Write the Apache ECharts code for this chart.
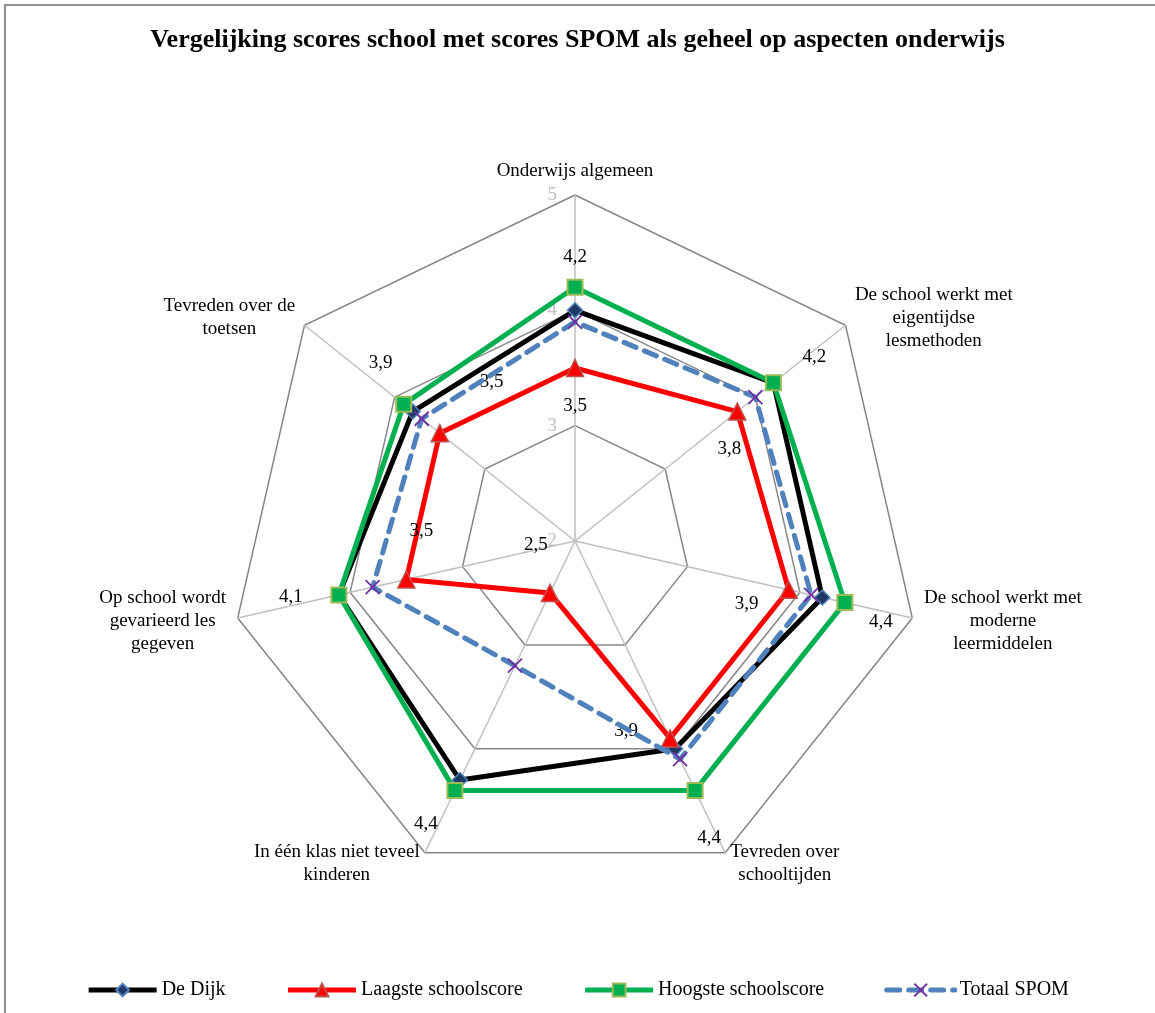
<!DOCTYPE html>
<html>
<head>
<meta charset="utf-8">
<script src="https://cdn.jsdelivr.net/npm/echarts@6/dist/echarts.min.js"></script>
<style>
  html, body { margin: 0; padding: 0; background: #fff; overflow: hidden; }
  #wrap { position: relative; width: 1155px; height: 1013px; }
  #chart { width: 1155px; height: 1013px; }
  #frame { position: absolute; left: 4px; top: 4px; right: -4px; bottom: -4px;
           border: 2px solid #8f8f8f; pointer-events: none; }
</style>
</head>
<body>
<div id="wrap">
  <div id="chart"></div>
  <div id="frame"></div>
</div>
<script>
// aspecten (clockwise from the top, as in the original)
const categories = [
  'Onderwijs algemeen',
  'De school werkt met\neigentijdse\nlesmethoden',
  'De school werkt met\nmoderne\nleermiddelen',
  'Tevreden over\nschooltijden',
  'In één klas niet teveel\nkinderen',
  'Op school wordt\ngevarieerd les\ngegeven',
  'Tevreden over de\ntoetsen'
];
const seriesNames = ['De Dijk', 'Laagste schoolscore', 'Hoogste schoolscore', 'Totaal SPOM'];
const deDijk = [4.0, 4.2, 4.2, 4.0, 4.3, 4.1, 3.8];
const laagste = [3.5, 3.8, 3.9, 3.9, 2.5, 3.5, 3.5];
const hoogste = [4.2, 4.2, 4.4, 4.4, 4.4, 4.1, 3.9];
const totaalSpom = [3.9, 4.0, 4.1, 4.1, 3.2, 3.8, 3.7];
const axisMin = 2, axisMax = 5;

const FONT = 'Liberation Serif';
const CX = 575, CY = 541, R = 346;
const STEP = 2 * Math.PI / 7;

// echarts draws radar axes counter-clockwise, so reverse all but the first
const order = [0, 6, 5, 4, 3, 2, 1];
const pick = arr => order.map(i => arr[i]);

// label offsets per aspect (clockwise index), like the Excel labels
const hoogOffsets = [[0, -30], [41, -26], [36, 19], [14, 48], [-29, 34], [-48, 2], [-23, -41]];
const laagOffsets = [[0, 38], [-8, 37], [-42, 14], [-44, -7], [-14, -48], [15, -48], [52, -51]];

function placeLabels(offsets) {
  return function (p) {
    const x = p.rect.x + p.rect.width / 2 - CX;
    const y = p.rect.y + p.rect.height / 2 - CY;
    let k = Math.round(Math.atan2(x, -y) / STEP);
    k = ((k % 7) + 7) % 7;
    return { dx: offsets[k][0], dy: offsets[k][1] };
  };
}

const fmt = v => Number(v).toFixed(1).replace('.', ',');

const styles = [
  { line: { color: '#000000', width: 5 }, symbol: 'diamond', size: 15,
    item: { color: '#1f3864', borderColor: '#4f81bd', borderWidth: 1.5 } },
  { line: { color: '#ff0000', width: 5 }, symbol: 'triangle', size: 17,
    item: { color: '#ff0000', borderColor: '#c0504d', borderWidth: 1.5 } },
  { line: { color: '#00b050', width: 5 }, symbol: 'rect', size: 15,
    item: { color: '#00b050', borderColor: '#9bbb59', borderWidth: 2 } },
  { line: { color: '#4f81bd', width: 5, type: [13, 9], cap: 'round' }, symbol: 'path://M0,0L10,10M10,0L0,10', size: 14,
    item: { color: 'none', borderColor: '#7030a0', borderWidth: 1.8 } }
];
const values = [deDijk, laagste, hoogste, totaalSpom];

const chart = echarts.init(document.getElementById('chart'));

// empty line series only to get line+marker legend icons
const legendSeries = seriesNames.map((name, i) => ({
  type: 'line', name: name, data: [],
  lineStyle: styles[i].line, symbol: styles[i].symbol, symbolSize: styles[i].size,
  itemStyle: styles[i].item
}));

const radarSeries = seriesNames.map((name, i) => {
  const s = {
    type: 'radar', name: name,
    data: [{ name: name, value: pick(values[i]) }],
    lineStyle: styles[i].line,
    symbol: styles[i].symbol, symbolSize: styles[i].size,
    itemStyle: styles[i].item,
    emphasis: { disabled: true },
    z: 2 + i
  };
  if (i === 1 || i === 2) {
    s.label = {
      show: true, position: 'inside', color: '#000',
      fontFamily: FONT, fontSize: 19,
      formatter: p => fmt(p.value)
    };
    s.labelLayout = placeLabels(i === 1 ? laagOffsets : hoogOffsets);
  }
  return s;
});

const option = {
  animation: false,
  title: {
    text: 'Vergelijking scores school met scores SPOM als geheel op aspecten onderwijs',
    left: 'center', top: 22,
    textStyle: { fontFamily: FONT, fontSize: 26, fontWeight: 'bold', color: '#000' }
  },
  legend: {
    bottom: 8, left: 'center',
    data: seriesNames.map(n => ({ name: n, lineStyle: { width: 5 } })),
    itemWidth: 68, itemHeight: 16, itemGap: 60,
    textStyle: { fontFamily: FONT, fontSize: 20, color: '#000' }
  },
  grid: { show: false, left: 0, top: 0, width: 1, height: 1 },
  xAxis: { show: false, type: 'category', data: [] },
  yAxis: { show: false, type: 'value' },
  radar: {
    center: [CX, CY], radius: R, startAngle: 90,
    shape: 'polygon', splitNumber: 3,
    indicator: pick(categories).map((n, i) => {
      const ind = { name: n, min: axisMin, max: axisMax };
      if (i === 0) ind.axisLabel = { show: true };
      return ind;
    }),
    nameGap: 12,
    axisName: {
      color: '#000', fontFamily: FONT, fontSize: 19,
      formatter: n => n.split('\n').map(s => '{c|' + s + '}').join('\n'),
      rich: { c: { align: 'center', fontFamily: FONT, fontSize: 19, color: '#000', lineHeight: 23 } }
    },
    axisLine: { show: true, lineStyle: { color: '#bfbfbf', width: 1.5 } },
    splitLine: { lineStyle: { color: '#868686', width: 1.5 } },
    splitArea: { show: false },
    axisTick: { show: false },
    axisLabel: { show: false, color: '#bfbfbf', fontFamily: FONT, fontSize: 19, margin: 18 }
  },
  series: legendSeries.concat(radarSeries)
};

chart.setOption(option);
</script>
</body>
</html>
